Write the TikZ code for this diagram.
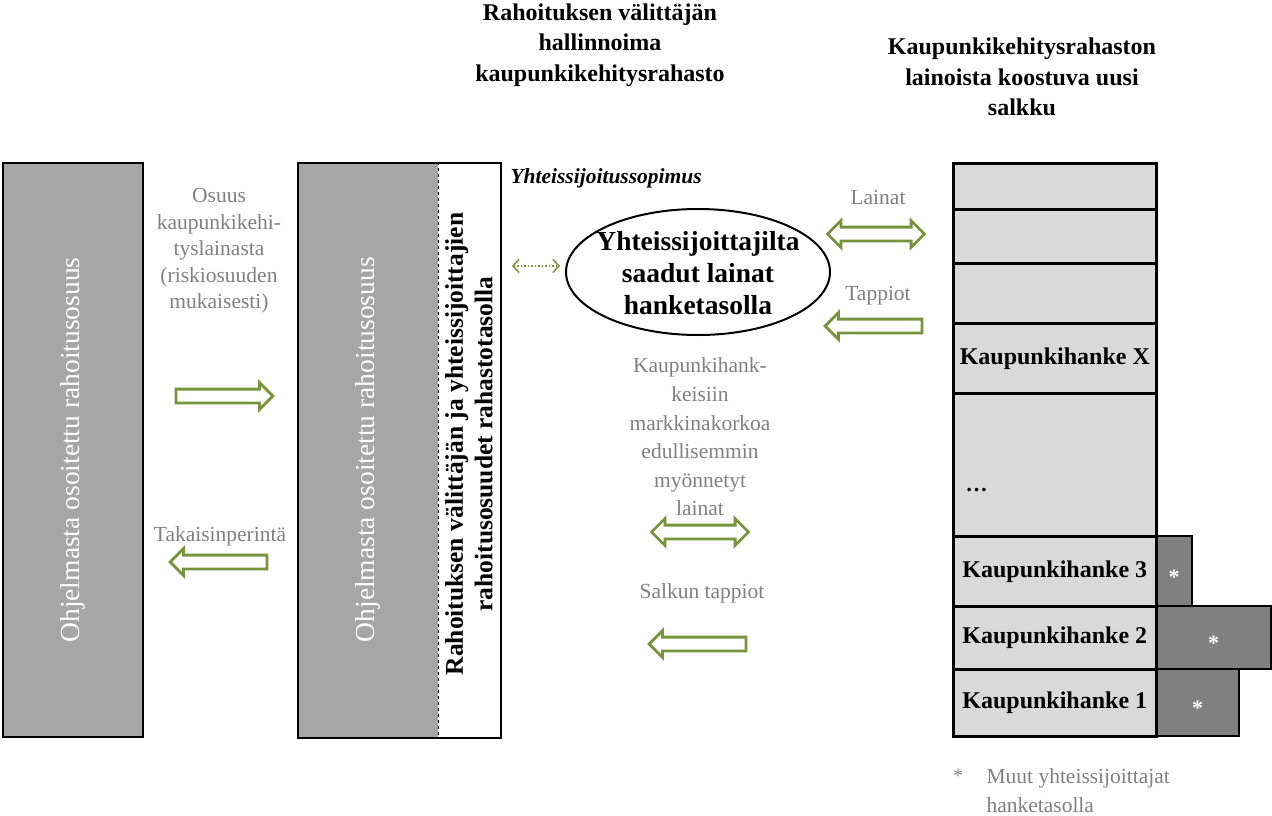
\documentclass[tikz,border=0pt]{standalone}
\usepackage{fontspec}
\setmainfont{Liberation Serif}
\usetikzlibrary{shapes.geometric,shapes.arrows,arrows.meta}
\definecolor{ArrowClr}{RGB}{119,147,60}
\definecolor{NoteClr}{RGB}{128,128,128}
\definecolor{BarClr}{RGB}{166,166,166}
\definecolor{RowClr}{RGB}{217,217,217}
\definecolor{SideClr}{RGB}{128,128,128}

\tikzset{
  note/.style={text=NoteClr, font=\fontsize{21.5}{26.5}\selectfont, align=center},
  title/.style={font=\bfseries\fontsize{24}{30.5}\selectfont, align=center},
  bartext/.style={rotate=90, text=white, font=\fontsize{27.5}{30}\selectfont},
  rarrow/.style={single arrow, draw=ArrowClr, line width=2.8pt, fill=white,
    minimum height=97pt, inner sep=5.5pt, single arrow head extend=6.5pt,
    single arrow head indent=0pt},
  larrow/.style={rarrow, shape border rotate=180},
  darrow/.style={double arrow, draw=ArrowClr, line width=2.8pt, fill=white,
    minimum height=97pt, inner sep=5.5pt, double arrow head extend=6.5pt},
  dotarrow/.style={draw=ArrowClr, line width=1.5pt, dotted,
    {Straight Barb[length=6pt,width=13pt,line width=1.5pt]}-{Straight Barb[length=6pt,width=13pt,line width=1.5pt]}},
  rowbox/.style={draw, line width=2.6pt, fill=RowClr, anchor=north west,
    minimum width=203pt, inner sep=0pt, font=\bfseries\fontsize{24}{26}\selectfont},
  sidebox/.style={draw, line width=2pt, fill=SideClr, anchor=north west, inner sep=0pt},
  star/.style={text=white, font=\bfseries\fontsize{22}{22}\selectfont, yshift=-6pt},
}

\begin{document}
\begin{tikzpicture}[x=1pt,y=-1pt]
\useasboundingbox (0,0) rectangle (1272,816);

% Otsikot
\node[title] (otsrahasto) at (600,45) {Rahoituksen välittäjän\\hallinnoima\\kaupunkikehitysrahasto};
\node[title] (otssalkku) at (1022,77) {Kaupunkikehitysrahaston\\lainoista koostuva uusi\\salkku};

% Ohjelman rahoitusosuus
\node[draw, line width=2pt, fill=BarClr, anchor=north west, minimum width=140pt,
  minimum height=574pt] (ohjelma) at (2,162) {};
\node[bartext] at (ohjelma.center) {Ohjelmasta osoitettu rahoitusosuus};

% Kaupunkikehitysrahasto
\node[fill=BarClr, anchor=north west, minimum width=141pt, minimum height=575pt] (osuus) at (297,162) {};
\node[draw, line width=2.4pt, anchor=north west, minimum width=203pt,
  minimum height=575pt] (rahasto) at (297,162) {};
\draw[line width=1.4pt, dashed] (osuus.north east) -- (osuus.south east);
\node[bartext] at (osuus.center) {Ohjelmasta osoitettu rahoitusosuus};
\node[rotate=90, align=center, font=\bfseries\fontsize{25.5}{29.5}\selectfont] at (469,444)
  {Rahoituksen välittäjän ja yhteissijoittajien\\rahoitusosuudet rahastotasolla};

% Rahavirrat ohjelman ja rahaston välillä
\node[note] (osuusteksti) at (219,251) {Osuus\\kaupunkikehi-\\tyslainasta\\(riskiosuuden\\mukaisesti)};
\node[rarrow] (osuusnuoli) at (221,396) {};
\node[note] (takaisin) at (220,536) {Takaisinperintä};
\node[larrow] (takaisinnuoli) at (222,562) {};

% Yhteissijoitussopimus
\node[anchor=west, font=\bfseries\itshape\fontsize{21.5}{24}\selectfont] (sopimus) at (507,178) {Yhteissijoitussopimus};
\node[ellipse, draw, line width=2pt, minimum width=264pt, minimum height=126pt] (yhteis) at (698,272) {};
\node[align=center, font=\bfseries\fontsize{27.5}{32}\selectfont] at (698,273)
  {Yhteissijoittajilta\\saadut lainat\\hanketasolla};
\coordinate (sopL) at (512,266);
\coordinate (sopR) at (560,266);
\draw[dotarrow] (sopL) -- (sopR);

% Lainat ja tappiot
\node[note, font=\fontsize{21.5}{28.6}\selectfont] (edull) at (700,437)
  {Kaupunkihank-\\keisiin\\markkinakorkoa\\edullisemmin\\myönnetyt\\lainat};
\node[darrow] (edullnuoli) at (700,532) {};
\node[note] (salkku) at (702,593) {Salkun tappiot};
\node[larrow] (salkkunuoli) at (701,644) {};
\node[note] (lainat) at (878,197) {Lainat};
\node[darrow] (lainatnuoli) at (876,234) {};
\node[note] (tappiot) at (878,296) {Tappiot};
\node[larrow] (tappiotnuoli) at (877,326) {};

% Muut yhteissijoittajat
\node[sidebox, minimum width=36pt, minimum height=70pt] (muut3) at (1155,535) {};
\node[sidebox, minimum width=115pt, minimum height=63pt] (muut2) at (1155,605) {};
\node[sidebox, minimum width=83pt, minimum height=67pt] (muut1) at (1155,668) {};
\node[star] at (muut3.center) {*};
\node[star] at (muut2.center) {*};
\node[star] at (muut1.center) {*};

% Uusi salkku
\node[rowbox, minimum height=46pt] (rivi1) at (952,162) {};
\node[rowbox, minimum height=54pt] (rivi2) at (952,208) {};
\node[rowbox, minimum height=60pt] (rivi3) at (952,262) {};
\node[rowbox, minimum height=70pt] (hankeX) at (952,322) {Kaupunkihanke X};
\node[rowbox, minimum height=143pt] (hankeN) at (952,392) {};
\node[anchor=west, font=\bfseries\fontsize{22}{26}\selectfont] at (962,490) {\dots};
\node[rowbox, minimum height=70pt] (hanke3) at (952,535) {Kaupunkihanke 3};
\node[rowbox, minimum height=63pt] (hanke2) at (952,605) {Kaupunkihanke 2};
\node[rowbox, minimum height=67pt] (hanke1) at (952,668) {Kaupunkihanke 1};

% Selite
\node[text=NoteClr, font=\fontsize{20}{29}\selectfont] (tahti) at (958,776) {*};
\node[anchor=west, align=left, text=NoteClr, font=\fontsize{21.5}{29}\selectfont] (selite) at (983,791)
  {Muut yhteissijoittajat\\hanketasolla};

\end{tikzpicture}
\end{document}
